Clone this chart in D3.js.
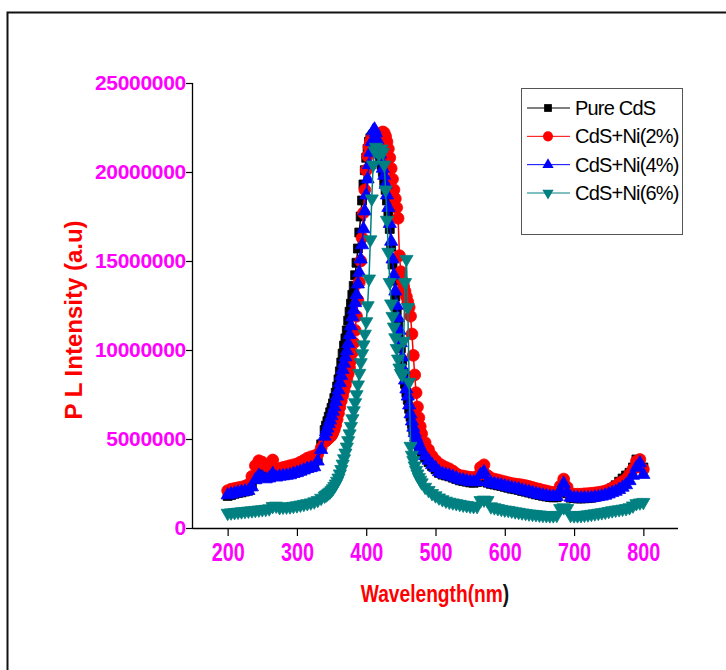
<!DOCTYPE html>
<html>
<head>
<meta charset="utf-8">
<script src="https://cdn.jsdelivr.net/npm/d3@7"></script>
<style>
  body { margin: 0; background: #fff; }
  svg text { font-family: "Liberation Sans", Arial, sans-serif; }
</style>
</head>
<body>
<div id="chart"></div>
<script>
// wavelength grid (nm)
var wavelength = [
  200,205,210,215,220,225,230,235,240,245,250,255,260,265,270,275,280,285,290,295,300,305,310,315,320,325,330,335,340,
  342,344,346,348,350,352,354,356,358,360,
  362,364,366,368,370,372,374,376,378,380,
  382,384,386,388,390,392,394,396,398,400,
  402,404,406,408,410,412,414,416,418,420,
  422,424,426,428,430,432,434,436,438,440,
  442,444,446,448,450,452,454,456,458,460,
  462,464,466,468,470,472,474,476,478,480,
  485,490,495,500,505,510,515,520,525,530,
  535,540,545,550,555,560,565,570,575,580,
  585,590,595,600,605,610,615,620,625,630,
  635,640,645,650,655,660,665,670,675,680,
  685,690,695,700,705,710,715,720,725,730,
  735,740,745,750,755,760,765,770,775,780,
  785,790,795,800
];

// PL intensity, in units of 1e6
var pureCdS = [
  1.80,1.85,1.92,1.97,2.00,2.05,2.10,2.35,2.75,3.00,3.10,3.15,3.05,3.10,2.95,2.98,3.00,3.03,3.06,3.10,3.15,3.22,3.30,3.38,3.45,3.55,4.00,4.70,5.50,
  5.75,6.00,6.25,6.50,6.75,7.00,7.30,7.60,7.95,8.35,
  8.80,9.30,9.80,10.25,10.65,11.10,11.65,12.15,12.60,13.10,
  13.60,14.20,14.90,15.70,16.60,17.50,18.40,19.30,20.10,20.80,
  21.30,21.70,21.90,22.00,22.10,22.00,21.80,21.50,21.20,20.80,
  20.40,20.00,19.50,19.00,18.40,17.70,16.80,15.80,14.80,13.90,
  13.00,12.20,11.50,10.80,10.10,9.40,8.70,8.10,7.60,7.20,
  6.70,6.25,5.85,5.50,5.20,4.95,4.75,4.55,4.40,4.25,
  3.95,3.70,3.48,3.30,3.10,3.00,2.95,2.90,2.83,2.75,
  2.68,2.64,2.60,2.56,2.54,2.58,2.85,3.05,2.55,2.48,
  2.44,2.40,2.36,2.31,2.26,2.21,2.18,2.14,2.08,2.04,
  1.99,1.94,1.89,1.85,1.81,1.77,1.74,1.72,1.73,2.05,
  2.45,1.95,1.70,1.68,1.66,1.66,1.67,1.68,1.70,1.74,
  1.80,1.88,1.98,2.10,2.25,2.40,2.60,2.78,2.95,3.10,
  3.40,3.85,3.70,3.40
];

var ni2 = [
  2.10,2.18,2.22,2.26,2.30,2.35,2.45,2.90,3.50,3.78,3.70,3.48,3.40,3.82,3.30,3.35,3.40,3.45,3.50,3.55,3.60,3.70,3.80,3.92,4.00,4.05,4.15,4.50,4.85,
  4.90,4.98,5.05,5.12,5.20,5.35,5.55,5.80,6.10,6.45,
  6.80,7.15,7.45,7.75,8.05,8.35,8.65,9.00,9.40,9.85,
  10.40,11.10,11.90,12.80,13.80,15.00,16.30,17.70,19.00,20.10,
  20.90,21.40,21.70,21.90,22.00,22.00,21.90,21.90,22.00,22.10,
  22.20,22.25,22.20,22.00,21.70,21.30,20.80,20.20,19.60,19.00,
  18.50,18.00,17.40,15.30,14.40,13.90,13.60,13.30,13.00,12.70,
  12.40,11.90,10.90,9.70,8.60,7.60,6.80,6.20,5.70,5.30,
  4.80,4.40,4.05,3.80,3.62,3.50,3.40,3.32,3.20,3.05,
  2.95,2.92,2.88,2.85,2.83,2.90,3.40,3.55,2.95,2.80,
  2.75,2.70,2.65,2.60,2.55,2.50,2.47,2.45,2.42,2.38,
  2.33,2.28,2.22,2.18,2.12,2.08,2.03,2.00,2.00,2.35,
  2.75,2.30,1.92,1.90,1.90,1.90,1.92,1.93,1.95,1.97,
  2.00,2.03,2.08,2.15,2.25,2.35,2.50,2.62,2.75,3.00,
  3.30,3.75,3.85,3.30
];

var ni4 = [
  1.85,1.90,1.95,2.00,2.03,2.06,2.10,2.30,2.70,2.95,2.85,2.75,2.80,3.05,2.85,2.90,2.92,2.95,2.98,3.05,3.10,3.18,3.25,3.33,3.38,3.43,3.75,4.40,5.15,
  5.40,5.60,5.85,6.05,6.30,6.55,6.80,7.10,7.40,7.75,
  8.15,8.55,8.90,9.25,9.60,9.95,10.35,10.85,11.35,11.85,
  12.25,12.65,13.10,13.70,14.35,15.10,15.90,16.80,17.80,18.70,
  19.60,20.40,21.10,21.70,22.30,22.40,22.20,21.80,21.40,21.00,
  20.60,20.20,19.80,19.30,18.70,18.00,17.10,16.10,15.10,14.20,
  13.30,12.50,11.80,11.10,10.40,9.60,8.90,8.30,7.80,7.40,
  6.90,6.40,6.00,5.65,5.35,5.10,4.90,4.70,4.50,4.35,
  4.05,3.80,3.55,3.38,3.15,3.05,3.00,2.95,2.88,2.80,
  2.72,2.68,2.64,2.60,2.58,2.60,3.00,3.15,2.60,2.52,
  2.48,2.44,2.40,2.35,2.30,2.25,2.22,2.18,2.12,2.08,
  2.03,1.98,1.93,1.88,1.84,1.80,1.77,1.75,1.76,2.10,
  2.50,2.00,1.72,1.70,1.68,1.67,1.68,1.68,1.69,1.72,
  1.75,1.78,1.83,1.90,1.98,2.05,2.15,2.28,2.42,2.65,
  2.95,3.40,3.65,3.00
];

var ni6 = [
  0.84,0.86,0.88,0.90,0.92,0.94,0.96,0.98,1.00,1.02,1.04,1.06,1.09,1.22,1.24,1.16,1.18,1.19,1.20,1.23,1.26,1.30,1.34,1.38,1.42,1.48,1.56,1.68,1.80,
  1.86,1.92,1.98,2.04,2.12,2.22,2.34,2.48,2.64,2.82,
  3.05,3.30,3.60,3.90,4.22,4.56,4.92,5.30,5.72,6.15,
  6.60,7.05,7.50,8.05,8.70,9.30,9.80,10.30,10.90,11.60,
  12.50,14.00,16.20,18.50,20.40,21.20,21.40,21.20,21.00,21.10,
  21.30,21.10,20.40,19.00,17.30,15.50,13.80,12.60,11.90,11.30,
  10.70,10.10,9.50,9.00,8.70,8.60,10.50,13.80,15.10,12.40,
  8.20,4.60,4.10,3.80,3.50,3.25,3.05,2.85,2.70,2.55,
  2.30,2.12,1.95,1.82,1.70,1.60,1.52,1.46,1.42,1.38,
  1.34,1.30,1.27,1.24,1.22,1.22,1.55,1.58,1.55,1.20,
  1.15,1.10,1.06,1.02,1.00,0.96,0.92,0.89,0.86,0.83,
  0.80,0.78,0.76,0.74,0.72,0.71,0.70,0.70,0.72,1.10,
  1.15,1.10,0.72,0.70,0.70,0.71,0.73,0.75,0.78,0.81,
  0.84,0.87,0.90,0.94,0.98,1.01,1.04,1.07,1.10,1.15,
  1.25,1.38,1.42,1.45
];

var seriesNames = ["Pure CdS", "CdS+Ni(2%)", "CdS+Ni(4%)", "CdS+Ni(6%)"];
var xMajor = [200, 300, 400, 500, 600, 700, 800];
var xMinor = [150, 250, 350, 450, 550, 650, 750, 850];
var yMajor = [0, 5000000, 10000000, 15000000, 20000000, 25000000];
var yMinor = [2500000, 7500000, 12500000, 17500000, 22500000];

var W = 726, H = 670;
var svg = d3.select("#chart").append("svg")
    .attr("width", W)
    .attr("height", H);

// outer frame
svg.append("rect")
    .attr("x", 7.5).attr("y", 12.5)
    .attr("width", 800).attr("height", 800)
    .attr("fill", "none")
    .attr("stroke", "#111")
    .attr("stroke-width", 2);

var x = d3.scaleLinear().domain([150, 850]).range([193, 678]);
var y = d3.scaleLinear().domain([0, 25000000]).range([528, 83]);

// size = plot marker area, lsize = legend marker area
var series = [
  {name: seriesNames[0], values: pureCdS, color: "#000000", symbol: d3.symbolSquare,   size: 80,  lsize: 60, rot: 0},
  {name: seriesNames[1], values: ni2,     color: "#ff0000", symbol: d3.symbolCircle,   size: 110, lsize: 80, rot: 0},
  {name: seriesNames[2], values: ni4,     color: "#0000ff", symbol: d3.symbolTriangle, size: 75,  lsize: 55, rot: 0},
  {name: seriesNames[3], values: ni6,     color: "#008080", symbol: d3.symbolTriangle, size: 75,  lsize: 55, rot: 180}
];

var line = d3.line()
    .x(function(d, i) { return x(wavelength[i]); })
    .y(function(d) { return y(d * 1e6); });

var plot = svg.append("g");

series.forEach(function(s) {
  var g = plot.append("g");
  g.append("path")
      .datum(s.values)
      .attr("d", line)
      .attr("fill", "none")
      .attr("stroke", s.color)
      .attr("stroke-width", 1.5);
  var sym = d3.symbol().type(s.symbol).size(s.size)();
  g.selectAll("path.pt")
      .data(s.values)
      .enter().append("path")
      .attr("class", "pt")
      .attr("d", sym)
      .attr("fill", s.color)
      .attr("stroke", s.color)
      .attr("stroke-width", 0.8)
      .attr("transform", function(d, i) {
        return "translate(" + x(wavelength[i]) + "," + y(d * 1e6) + ") rotate(" + s.rot + ")";
      });
});

// axes
var gx = svg.append("g").attr("transform", "translate(0,528)");
gx.call(d3.axisBottom(x).tickValues(xMinor).tickSize(5).tickFormat(""));
gx.call(d3.axisBottom(x).tickValues(xMajor).tickSize(8).tickPadding(7).tickFormat(d3.format("d")));
gx.selectAll(".domain").attr("d", "M193,0.5H678").attr("stroke", "#000").attr("stroke-width", 1.3);

var gy = svg.append("g").attr("transform", "translate(193,0)");
gy.call(d3.axisLeft(y).tickValues(yMinor).tickSize(5).tickFormat(""));
gy.call(d3.axisLeft(y).tickValues(yMajor).tickSize(7).tickPadding(0).tickFormat(d3.format("d")));
gy.selectAll(".domain").attr("d", "M-0.5,83V528").attr("stroke", "#000").attr("stroke-width", 1.3);

svg.selectAll(".tick line").attr("stroke", "#000").attr("stroke-width", 1.2);

gx.selectAll(".tick text")
    .attr("fill", "#ff00ff")
    .style("font-size", "25px")
    .style("font-weight", "bold")
    .attr("textLength", 33)
    .attr("lengthAdjust", "spacingAndGlyphs");

gy.selectAll(".tick text")
    .attr("fill", "#ff00ff")
    .style("font-size", "21px")
    .style("font-weight", "bold")
    .style("letter-spacing", "-0.3px");

// axis titles
svg.append("text")
    .attr("transform", "translate(435,602) scale(0.8,1)")
    .attr("text-anchor", "middle")
    .style("font-size", "24px")
    .style("font-weight", "bold")
    .attr("fill", "#ff0000")
    .text("Wavelength(nm")
  .append("tspan")
    .attr("fill", "#111")
    .text(")");

svg.append("text")
    .attr("transform", "translate(82,320) rotate(-90)")
    .attr("text-anchor", "middle")
    .style("font-size", "24px")
    .style("font-weight", "bold")
    .attr("fill", "#ff0000")
    .text("P L Intensity (a.u)");

// legend
var legend = svg.append("g");
legend.append("rect")
    .attr("x", 521.5).attr("y", 88.5)
    .attr("width", 161).attr("height", 146)
    .attr("fill", "#fff")
    .attr("stroke", "#555")
    .attr("stroke-width", 1);

var rowY = d3.scaleLinear().domain([0, 3]).range([108, 193]);

series.forEach(function(s, i) {
  var ly = rowY(i);
  legend.append("line")
      .attr("x1", 527).attr("x2", 570)
      .attr("y1", ly).attr("y2", ly)
      .attr("stroke", s.color)
      .attr("stroke-width", 1);
  legend.append("path")
      .attr("d", d3.symbol().type(s.symbol).size(s.lsize)())
      .attr("fill", s.color)
      .attr("transform", "translate(548," + ly + ") rotate(" + s.rot + ")");
  legend.append("text")
      .attr("x", 575).attr("y", ly + 7)
      .style("font-size", "20px")
      .style("letter-spacing", "-0.8px")
      .attr("fill", "#000")
      .text(s.name);
});
</script>
</body>
</html>
